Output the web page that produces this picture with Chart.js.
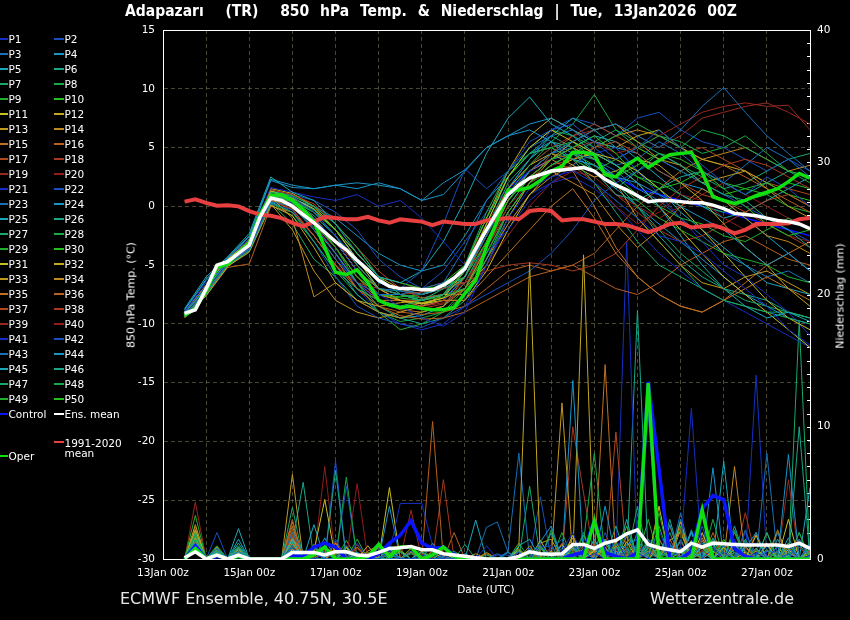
<!DOCTYPE html>
<html><head><meta charset="utf-8">
<script src="https://cdn.jsdelivr.net/npm/chart.js@4.4.1/dist/chart.umd.min.js"></script>
<style>
body{margin:0;background:#000;}
#wrap{position:relative;width:850px;height:620px;background:#000;overflow:hidden;font-family:'DejaVu Sans',sans-serif;color:#fff;}
canvas{position:absolute;left:0;top:0;}
.t{position:absolute;white-space:pre;line-height:1;}
.sw{position:absolute;height:2px;width:10px;}
</style></head><body>
<div id="wrap"><canvas id="c" width="850" height="620"></canvas></div>
<script>
// ---------- categories / tick labels ----------
const hours6 = [12,18,24,30,36,42,48,54,60,66,72,78,84,90,96,102,108,114,120,126,132,138,144,150,156,162,168,174,180,186,192,198,204,210,216,222,228,234,240,246,252,258,264,270,276,282,288,294,300,306,312,318,324,330,336,342,348,354,360];
const hours12 = [12,24,36,48,60,72,84,96,108,120,132,144,156,168,180,192,204,216,228,240,252,264,276,288,300,312,324,336,348,360];
const dateTickLabels = ['13Jan 00z','15Jan 00z','17Jan 00z','19Jan 00z','21Jan 00z','23Jan 00z','25Jan 00z','27Jan 00z'];
const memberPalette = ['#1430c4','#1850c0','#1870b8','#1894c8','#18a8b8','#18a888','#18a868','#18a848','#20b030','#20c020','#c8c020','#c0a820','#c09820','#c08820','#c07020','#b86020','#b04820','#a83820','#982820','#901c1c'];

// ---------- special series (6-hourly) ----------
const meanTemp = [-9.1,-8.8,-7.0,-5.0,-4.7,-4.0,-3.3,-0.9,0.7,0.5,0.0,-0.7,-1.4,-2.2,-3.0,-3.7,-4.6,-5.4,-6.3,-6.8,-7.0,-7.0,-7.1,-7.1,-6.7,-6.1,-5.3,-3.6,-2.0,-0.5,1.0,1.8,2.4,2.7,3.0,3.1,3.2,3.3,3.0,2.3,1.8,1.4,0.9,0.4,0.5,0.5,0.4,0.3,0.3,0.1,-0.2,-0.6,-0.7,-0.8,-1.0,-1.2,-1.3,-1.5,-1.9];
const operTemp = [-9.3,-8.7,-7.2,-5.2,-4.9,-3.9,-3.1,-0.7,0.9,1.0,0.5,-0.3,-1.3,-3.5,-5.6,-5.8,-5.4,-6.5,-8.0,-8.4,-8.6,-8.5,-8.7,-8.8,-8.8,-8.6,-7.4,-6.3,-3.4,-1.2,1.4,1.4,1.6,2.2,3.0,3.4,4.6,4.6,4.4,2.7,2.5,3.5,4.1,3.3,3.9,4.4,4.5,4.6,2.9,0.8,0.5,0.25,0.5,0.9,1.2,1.5,2.1,2.8,2.4];
const climTemp = [0.4,0.6,0.3,0.05,0.1,0.0,-0.4,-0.7,-0.8,-1.0,-1.4,-1.7,-1.3,-0.9,-1.0,-1.1,-1.1,-0.9,-1.2,-1.4,-1.1,-1.2,-1.3,-1.6,-1.3,-1.4,-1.5,-1.5,-1.2,-1.1,-1.0,-1.1,-0.4,-0.3,-0.4,-1.2,-1.1,-1.1,-1.3,-1.5,-1.5,-1.6,-1.9,-2.2,-1.9,-1.5,-1.4,-1.8,-1.7,-1.6,-1.9,-2.3,-2.0,-1.5,-1.5,-1.5,-1.45,-1.1,-1.0];
const meanPrecip = [0.1,0.55,0,0.3,0,0.3,0,0,0,0,0.5,0.5,0.5,0.3,0.55,0.55,0.3,0.25,0.5,0.8,0.85,0.95,0.7,0.7,0.4,0.3,0.2,0.1,0,0,0,0.2,0.55,0.4,0.35,0.4,1.1,1.1,0.8,1.2,1.4,1.9,2.2,1.1,0.85,0.7,0.55,1.2,0.9,1.2,1.15,1.1,1.06,1.06,1.06,1.06,0.95,1.2,0.8];
const controlPrecip = [0,1.0,0,0.2,0,0.2,0,0,0,0,0.2,0.2,0.9,1.2,0.9,0,0,0,0.4,1.2,1.8,2.9,1.2,0.8,0.9,0.3,0,0,0,0,0,0,0,0,0,0,0.3,0.5,2.9,0.5,0.2,0,0.5,13.4,6.8,0,0,0.6,3.8,4.8,4.5,0.8,0.2,0,0,0,0,0,0];
const operPrecip = [0,0.8,0,0.3,0,0.2,0,0,0,0,0,0,0.3,0.9,0,0,0,0.2,1.1,0.2,0.9,0.9,0,0.3,0.9,0.2,0,0,0,0,0,0,0,0,0,0,0,0,2.9,0,0,0,0,13.3,0,0,0,0,3.7,0,0,0,0,0,0,0,0,0,0];
// control temperature (12-hourly)
const controlTemp = [-9.0,-7.0,-4.7,-3.2,0.8,0.2,-1.5,-4.0,-6.5,-8.0,-8.5,-8.5,-8.0,-6.0,-2.0,1.5,3.0,4.0,4.5,4.0,2.5,1.5,1.0,0.5,0.0,-0.5,-1.0,-1.5,-2.0,-2.5];

// ---------- members: 850 hPa temperature (12-hourly) ----------
const T01=[-9.2,-7.1,-4.8,-3.5,0.6,0.3,-1.0,-3.0,-5.5,-7.5,-8.5,-9.5,-10.2,-9.0,-5.0,-1.0,1.5,2.5,3.0,2.0,0.5,-1.0,-2.5,-3.0,-4.0,-5.5,-7.0,-8.5,-10.5,-11.8];
const T02=[-9.0,-6.8,-4.6,-3.0,1.0,0.8,-0.5,-2.5,-4.5,-6.5,-7.0,-5.5,-1.5,3.2,1.5,3.0,5.5,6.5,7.0,5.5,4.0,5.0,6.5,5.0,3.5,2.0,1.0,2.5,1.5,0.0];
const T03=[-9.3,-7.3,-4.9,-3.6,0.4,0.0,-2.0,-4.5,-6.5,-7.5,-7.5,-7.0,-6.5,-5.5,-2.5,1.0,3.0,4.5,5.5,6.5,7.0,6.0,5.0,6.5,8.5,10.1,8.0,6.0,4.5,3.0];
const T04=[-8.8,-6.3,-4.4,-2.6,2.2,1.6,1.5,1.8,1.5,2.0,1.5,0.5,1.0,3.0,5.0,6.0,6.5,5.5,4.0,3.5,2.5,2.0,1.0,0.0,-1.0,-2.0,-3.5,-5.0,-4.0,-5.5];
const T05=[-8.7,-6.0,-4.3,-2.3,2.5,1.2,0.5,-1.5,-4.0,-6.0,-6.5,-5.5,-3.0,0.5,4.5,7.5,9.3,7.0,6.0,4.5,3.5,2.0,0.0,-2.5,-5.0,-7.0,-8.5,-9.5,-9.0,-9.8];
const T06=[-9.1,-7.0,-4.7,-3.3,1.0,0.5,-0.8,-2.5,-5.0,-7.0,-7.5,-8.0,-7.5,-6.0,-2.0,2.0,4.0,5.5,5.0,3.0,1.5,3.0,4.5,3.5,2.0,1.0,0.5,-1.0,-2.0,-3.5];
const T07=[-9.4,-7.5,-5.0,-3.8,0.3,-0.5,-3.0,-5.5,-7.0,-8.0,-8.5,-8.0,-7.0,-5.0,-0.5,3.0,4.5,5.0,4.0,2.0,-0.5,-3.0,-5.0,-6.0,-7.0,-8.0,-8.5,-9.0,-9.5,-10.0];
const T08=[-9.0,-6.9,-4.6,-3.1,1.2,0.9,0.0,-1.5,-3.5,-6.0,-7.5,-8.0,-7.5,-5.5,-2.5,1.0,3.5,5.5,7.0,9.5,6.5,5.0,6.0,5.5,4.5,5.0,6.0,4.5,3.0,2.5];
const T09=[-9.3,-7.2,-4.8,-3.4,0.7,0.2,-1.5,-3.5,-6.0,-7.5,-7.8,-8.0,-7.7,-7.0,-4.0,-0.5,2.0,3.5,4.5,4.0,2.5,1.0,0.0,-1.0,-1.5,-2.5,-3.0,-2.0,-1.0,-2.0];
const T10=[-9.2,-7.0,-4.7,-3.2,0.9,0.4,-0.5,-2.0,-4.0,-6.0,-6.5,-7.0,-6.8,-6.0,-3.0,0.5,2.5,4.0,5.0,6.0,4.5,2.5,1.5,2.0,3.0,1.5,0.0,-1.5,-2.5,-2.0];
const T11=[-9.0,-6.8,-4.5,-3.0,1.3,0.7,-0.2,-2.0,-4.5,-7.0,-8.0,-8.3,-7.8,-5.5,-1.5,2.5,5.0,6.5,5.5,4.5,4.0,3.0,1.5,0.0,-2.0,-4.0,-6.0,-8.0,-9.5,-10.5];
const T12=[-9.5,-7.6,-5.1,-3.9,0.1,-0.8,-3.5,-6.5,-8.0,-8.5,-8.2,-8.0,-7.5,-6.0,-2.0,1.5,3.5,4.5,3.5,2.5,3.0,4.0,3.5,2.0,0.5,-1.5,-3.5,-5.0,-7.0,-8.5];
const T13=[-9.1,-6.9,-4.6,-3.2,1.0,0.6,-1.0,-3.0,-5.5,-7.5,-8.0,-8.2,-7.8,-7.0,-5.0,-1.0,2.0,4.0,5.5,6.5,7.0,5.5,4.0,3.5,2.0,2.5,3.0,1.5,0.0,-1.0];
const T14=[-9.2,-7.2,-4.8,-3.3,0.8,-1.0,-7.7,-6.5,-8.0,-9.0,-9.5,-9.0,-8.5,-7.0,-3.5,0.5,2.5,3.0,2.0,1.0,-1.5,-3.5,-2.0,0.0,1.5,0.5,-1.0,-2.5,-3.0,-4.0];
const T15=[-9.3,-7.4,-4.9,-3.6,0.5,0.0,-2.0,-4.5,-7.0,-8.0,-8.0,-8.5,-8.0,-8.0,-6.0,-4.0,-2.0,0.0,1.5,-1.0,-4.0,-6.0,-7.5,-8.5,-9.0,-8.0,-7.0,-6.0,-7.0,-8.0];
const T16=[-9.4,-7.6,-5.2,-4.9,0.0,-0.5,-2.5,-5.0,-7.0,-8.5,-9.3,-9.6,-9.5,-9.0,-8.0,-7.0,-6.0,-5.5,-5.0,-6.0,-7.0,-7.5,-6.5,-5.0,-4.0,-3.0,-2.5,-3.5,-4.5,-5.0];
const T17=[-9.0,-6.7,-4.5,-2.9,1.4,1.0,0.2,-1.5,-3.5,-5.5,-7.0,-7.8,-7.5,-6.0,-2.5,1.0,3.0,4.5,4.0,5.0,5.5,4.5,3.0,2.0,1.0,0.5,-0.5,0.5,1.0,0.0];
const T18=[-9.3,-7.3,-4.9,-3.5,0.5,-0.2,-2.5,-5.0,-6.5,-7.0,-7.5,-7.3,-7.0,-6.5,-5.5,-5.0,-4.8,-5.0,-5.5,-5.0,-4.0,-2.0,0.0,1.5,2.5,3.5,4.0,3.5,2.5,1.5];
const T19=[-9.1,-7.0,-4.7,-3.3,0.8,0.3,-1.5,-3.5,-6.0,-7.5,-8.0,-8.5,-8.2,-7.0,-3.0,0.5,2.5,4.0,5.0,5.5,4.5,5.0,6.0,7.0,8.0,8.5,8.8,8.5,8.6,6.5];
const T20=[-9.2,-7.1,-4.8,-3.4,0.6,0.1,-1.2,-3.0,-5.0,-7.0,-8.0,-8.5,-8.0,-6.5,-3.5,0.0,2.0,3.0,3.5,2.0,0.0,-1.5,-0.5,1.0,0.5,-1.0,-2.0,-1.5,-2.5,-3.0];
const T21=[-8.9,-6.5,-4.4,-2.8,1.6,1.2,0.8,0.5,1.0,0.0,0.5,-1.0,-3.0,-5.0,-4.0,-2.0,0.5,2.0,3.5,4.5,5.0,3.0,1.0,-1.0,-3.0,-5.0,-6.0,-7.5,-9.0,-11.0];
const T22=[-9.4,-7.5,-5.0,-3.7,0.2,-0.3,-3.0,-6.0,-8.5,-9.5,-10.0,-10.3,-9.5,-8.5,-7.5,-6.5,-5.5,-4.0,-2.0,0.5,2.0,3.0,4.0,3.0,2.0,1.0,0.0,-1.0,-2.0,-3.0];
const T23=[-9.1,-7.0,-4.6,-3.2,0.9,0.5,-0.5,-2.5,-5.0,-7.0,-7.2,-7.5,-6.5,-3.5,0.5,3.0,5.0,6.0,6.5,5.0,3.5,4.0,5.5,4.5,3.0,2.0,3.5,5.0,4.0,2.5];
const T24=[-8.8,-6.2,-4.3,-2.5,2.3,1.8,1.5,1.8,2.0,1.8,1.5,0.5,2.0,3.1,5.0,6.0,7.0,7.5,6.5,5.5,5.0,4.5,3.0,2.0,1.5,0.5,-1.0,-2.5,-4.0,-5.5];
const T25=[-9.0,-6.8,-4.5,-3.0,1.3,0.8,-0.3,-2.0,-4.5,-6.5,-7.0,-7.5,-7.0,-6.0,-2.5,1.5,4.0,6.0,7.5,6.5,5.0,3.0,1.5,-0.5,-2.0,-3.5,-5.0,-6.5,-7.0,-7.5];
const T26=[-9.2,-7.2,-4.8,-3.4,0.6,0.0,-1.8,-4.0,-6.5,-8.5,-9.5,-10.0,-9.5,-8.0,-4.5,-0.5,2.0,3.5,4.5,3.0,1.0,0.5,1.5,2.5,3.0,2.0,1.0,2.0,3.0,2.5];
const T27=[-9.3,-7.4,-5.0,-3.7,0.3,-1.5,-4.5,-6.0,-8.0,-9.0,-9.5,-9.0,-8.5,-6.5,-3.0,0.5,3.0,4.5,5.5,4.0,2.0,0.0,-2.0,-4.0,-5.5,-7.0,-8.0,-8.5,-9.0,-9.5];
const T28=[-9.0,-6.8,-4.5,-3.0,1.1,0.6,-0.5,-2.5,-5.0,-7.0,-7.5,-7.8,-7.5,-5.5,-1.5,2.5,5.0,6.5,6.0,5.0,6.0,7.0,6.0,5.0,6.5,6.0,5.0,4.0,3.0,2.0];
const T29=[-9.2,-7.0,-4.7,-3.3,0.8,0.4,-1.0,-3.5,-6.5,-9.0,-10.5,-10.0,-9.0,-7.0,-3.5,0.0,2.5,4.0,4.5,3.5,2.0,0.5,-1.0,-2.0,-3.0,-4.0,-4.5,-5.0,-6.0,-6.5];
const T30=[-9.3,-7.2,-4.9,-3.5,0.6,0.1,-1.5,-3.5,-6.0,-7.5,-7.7,-7.5,-6.5,-5.0,-1.0,2.5,4.5,5.0,4.0,3.0,4.0,5.0,4.0,3.0,2.0,1.0,1.5,2.0,1.0,0.5];
const T31=[-9.1,-6.9,-4.6,-3.1,1.0,0.5,-1.0,-3.0,-5.5,-7.5,-8.0,-8.3,-8.0,-8.0,-5.5,-2.0,1.0,3.0,4.0,4.5,3.5,2.0,0.0,-2.0,-4.0,-6.0,-7.5,-9.0,-10.5,-12.0];
const T32=[-9.0,-6.7,-4.4,-2.8,1.5,1.1,0.0,-2.0,-4.0,-6.0,-7.0,-7.5,-7.0,-5.0,-1.0,3.0,6.0,7.5,6.5,5.5,5.0,6.0,6.5,5.0,4.0,3.5,3.0,2.0,1.0,0.0];
const T33=[-9.4,-7.5,-5.1,-3.8,0.2,-2.0,-5.5,-8.0,-9.0,-9.5,-9.0,-8.5,-7.5,-5.5,-2.0,1.0,2.5,4.0,5.0,4.0,2.0,-1.0,-3.0,-5.0,-6.5,-7.0,-6.0,-5.5,-6.5,-7.5];
const T34=[-9.2,-7.1,-4.7,-3.3,0.7,0.3,-1.2,-3.0,-5.5,-7.0,-7.5,-8.0,-7.5,-7.5,-4.5,-1.5,1.0,2.5,3.5,5.0,6.0,6.5,6.0,5.0,4.0,4.5,5.0,4.0,3.0,3.5];
const T35=[-9.1,-7.0,-4.7,-3.2,0.9,0.5,-1.0,-3.5,-6.0,-8.0,-8.8,-9.0,-8.5,-6.0,-2.0,1.0,3.0,4.0,3.0,0.0,-3.5,-6.0,-7.5,-8.5,-9.0,-8.0,-6.5,-5.0,-4.0,-3.0];
const T36=[-9.3,-7.3,-4.9,-3.5,0.5,-0.3,-2.5,-5.0,-7.0,-8.5,-9.0,-9.2,-9.0,-8.5,-7.0,-5.5,-5.0,-5.5,-5.0,-4.0,-2.0,0.0,1.5,3.0,4.0,3.5,2.5,1.5,0.5,-0.5];
const T37=[-9.0,-6.8,-4.5,-3.0,1.2,0.8,-0.5,-2.0,-4.0,-6.0,-6.5,-7.0,-6.5,-6.5,-3.5,-0.5,2.0,4.5,6.0,7.0,6.0,5.0,4.0,4.5,5.0,4.0,3.0,2.0,1.5,1.0];
const T38=[-9.2,-7.0,-4.8,-3.4,0.7,0.2,-1.5,-4.0,-6.5,-8.0,-8.5,-8.7,-8.3,-7.0,-4.0,-0.5,2.0,3.5,4.0,3.0,1.0,-0.5,-2.0,-3.0,-2.5,-1.5,-0.5,-1.5,-2.5,-3.5];
const T39=[-9.1,-6.9,-4.6,-3.2,0.9,0.6,-0.5,-2.5,-5.0,-7.0,-8.0,-8.0,-7.0,-5.0,-1.5,1.5,3.5,5.0,6.0,6.5,7.0,6.0,5.0,6.0,7.5,8.0,8.5,8.8,8.0,7.0];
const T40=[-9.3,-7.2,-4.9,-3.5,0.5,0.0,-2.0,-4.5,-7.0,-8.0,-8.0,-8.0,-7.5,-7.5,-5.0,-2.5,0.0,2.0,3.0,2.5,1.0,0.0,-1.0,0.0,1.0,2.0,1.0,0.0,-1.0,-2.0];
const T41=[-9.2,-7.1,-4.8,-3.4,0.7,0.2,-1.5,-4.0,-7.0,-9.0,-10.0,-10.5,-10.0,-8.5,-5.0,-1.5,1.0,2.0,2.5,1.5,0.0,-2.0,-4.0,-5.5,-7.0,-8.0,-9.0,-10.0,-11.0,-12.0];
const T42=[-9.0,-6.8,-4.5,-3.0,1.2,1.0,0.5,-0.5,-2.0,-4.5,-6.0,-7.0,-5.5,-3.0,-0.5,1.5,4.0,6.5,7.5,7.0,6.0,7.5,8.0,6.5,5.5,5.0,4.0,3.0,4.0,3.0];
const T43=[-9.2,-7.0,-4.7,-3.3,0.8,0.4,-1.0,-3.0,-5.5,-7.0,-7.2,-7.5,-7.0,-6.5,-3.0,0.5,3.0,4.5,5.0,4.0,3.0,1.5,0.5,-1.0,-2.5,-4.0,-5.0,-6.0,-5.5,-6.5];
const T44=[-9.1,-6.9,-4.6,-3.1,1.0,0.6,0.0,-1.0,-2.5,-4.0,-5.0,-5.5,-5.0,-2.5,0.5,2.5,4.5,5.5,4.5,3.0,1.5,0.0,-1.5,-3.0,-4.5,-6.0,-7.5,-8.5,-9.5,-10.0];
const T45=[-9.3,-7.3,-4.9,-3.5,0.4,-0.5,-2.5,-5.0,-7.5,-9.0,-9.5,-9.3,-8.5,-6.5,-3.5,0.0,2.5,4.0,5.0,6.0,5.5,4.0,2.5,1.0,0.0,-1.0,-0.5,0.5,1.5,2.5];
const T46=[-9.0,-6.7,-4.4,-2.9,1.3,0.9,0.0,-1.5,-3.5,-6.0,-7.5,-8.0,-7.5,-5.0,-1.0,2.5,4.5,6.0,5.0,4.0,2.0,0.0,-2.5,-4.5,-6.0,-7.0,-7.5,-8.0,-9.0,-9.5];
const T47=[-9.2,-7.1,-4.8,-3.4,0.7,0.3,-1.0,-3.0,-5.5,-7.0,-7.5,-7.8,-7.5,-7.0,-4.0,-0.5,2.0,3.5,4.5,5.5,6.5,5.5,4.5,3.5,2.5,1.5,2.0,3.0,4.0,4.5];
const T48=[-9.4,-7.5,-5.0,-3.7,0.3,-0.8,-3.0,-5.5,-7.5,-9.0,-9.8,-9.5,-9.0,-7.5,-4.5,-1.0,2.0,3.0,3.5,2.0,0.5,-1.0,-3.0,-5.0,-7.0,-8.0,-8.5,-9.0,-9.0,-9.5];
const T49=[-9.1,-6.9,-4.6,-3.2,1.0,0.7,-0.3,-2.0,-4.5,-7.0,-8.0,-8.3,-8.0,-6.0,-2.0,1.5,3.5,5.0,5.5,4.5,3.5,2.5,2.0,1.0,0.0,-0.5,0.5,1.0,0.0,-0.5];
const T50=[-9.2,-7.1,-4.7,-3.3,0.8,0.3,-1.2,-3.5,-6.0,-7.5,-8.0,-8.2,-7.8,-7.0,-3.0,0.5,3.0,4.5,4.0,3.5,2.5,3.5,4.5,4.0,3.0,2.0,1.5,1.0,2.0,1.5];

// ---------- members: precipitation (6-hourly, mm) ----------
const R01=[0,0.8,0,0.3,0,0.2,0,0,0,0, 0.5,0,0,0.4,0,0,1.2,0,0,0.6, 0,0,0.3,0,0,0.5,0,0,1.0,0, 0,0.5,0,1.2,0,0.6,2.0,0,0.4,0, 1.5,0,0.5,0,2.2,0,0.8,11.4,0,0.8, 0,1.5,0,0.5,0,0.9,1.0,0,0.3];
const R02=[0,0.6,0,2.0,0,0.4,0,0,0,0, 1.0,0,0.5,0,1.5,0,0,0,0.8,0, 0,0,0,0.4,0,0,0,0,0,0.3, 0.3,0,0,0.9,1.0,0,0,0.6,0,2.0, 0,0.7,0,11.0,0,1.0,0,0,2.5,0, 0.5,0,1.1,1.2,0,0,0.4,0,0];
const R03=[0,0.5,0,0.8,0,0.6,0,0,0,0, 2.0,0.5,0,0,0,1.0,0,0,0,0.4, 0,0.6,0,0,0.2,0,0,0,0,0.4, 0,0,0.8,0,0.7,1.5,0,0,3.0,0, 0,2.0,0,0.5,0,0,3.5,0,1.2,1.0, 0,0,2.2,0,0.6,0.5,0,1.5,0];
const R04=[0,1.0,0,0.5,0,0.8,0,0,0,0, 0.8,0,1.0,0,0,0,0.5,0,0,0, 0,0,0,1.2,0,0,0.4,0,0,0, 0.5,0,0,1.3,2.5,0,1.0,0,0,4.0, 0,1.1,1.5,0,0,2.6,0,2.0,0,0, 1.0,0,0.8,2.0,0,0,7.9,0,1.2];
const R05=[0,1.2,0,0.7,0,2.3,0,0,0,0, 1.5,0,2.6,0,0,0.5,0,0,0,1.0, 0,0,0.5,0,0,0,0,0,0,0, 0,1.0,1.5,0,0,0,0.8,0,0,1.5, 0,3.0,0,0.9,1.0,0,0,0,0.5,0, 0,2.5,0,0,1.0,0,1.6,0,0.8];
const R06=[0,1.5,0,0.5,0,0.5,0,0,0,0, 0.8,0,0,0,6.7,0,0,0.3,0,0, 0.5,0,0,0,0.8,0,0,0,0,0, 0,0.6,0,0,2.0,0,1.1,0.5,0,0, 2.5,0,0,1.2,0,3.0,0,0,1.2,0, 0,1.0,0.6,0,2.0,0,0,10.0,0];
const R07=[0,2.0,0,0.8,0,0.9,0,0,0,0, 3.9,0,0.6,0,0,0,0.5,0,0,0, 0,0.4,0,0,0,0,0,0,0.3,0, 0,0,0,0.8,0,0,1.0,0,2.5,0, 0.9,0,4.0,0,0.6,0,1.4,0,0,1.5, 0,0.5,0,0,0,1.0,0,0,0];
const R08=[0,1.8,0,1.0,0,0.6,0,0,0,0, 1.0,0,0,0.5,0,0,0,0,0.6,0, 0,0,0.8,0,0,0,0,0,0,0, 0,0,0,0,0.5,0,0,1.3,8.0,0, 0,0,2.0,0,0,1.0,0,0.7,0,3.0, 0,0,1.5,0,0,0.5,0,2.0,0];
const R09=[0,3.3,0,0.6,0,1.0,0,0,0,0, 0.5,0,0,0,0,0.8,0,0,0,0.3, 0,0,0,0,0,0.6,0,0,0,0, 0,0,0.4,0,0,2.0,0,0,0.9,0, 1.2,0,0,0,3.5,0,0.6,0,0.5,0, 0,2.0,0,0.7,0,0,1.0,0,0];
const R10=[0,1.5,0,0.4,0,0.3,0,0,0,0, 0,0,0.8,0,0,0,0,0,0.5,0, 0.7,0,0,0,0,0,0,0,0,0, 0,0,0,1.0,0,0,0.5,0,0,1.4, 0,2.5,0,0,0,0.6,0,0.8,0,0, 1.5,0,0,0,0.7,0,0,0,0.5];
const R11=[0,2.2,0,0.9,0,0.4,0,0,0,0, 1.5,0,0.6,4.5,0,0.9,0,0.4,0,0.5, 0,0.8,0,0,0.5,0,0,0,0,0, 0,0.7,0,1.4,0,0,1.8,0,0.6,0.6, 0,1.3,0,0,4.0,0,0.7,0,2.0,0, 0.9,0,0.5,0,1.1,0,3.0,0,0.4];
const R12=[0,1.6,0,0.6,0,0.5,0,0,0,0, 1.0,0,0.5,0,0.8,0,0,1.0,0,0, 0.6,0,0,0,0,0.3,0,0,0,0, 0,0.9,22.4,0,0,1.1,0,0,0.7,0, 1.0,0,0.6,0,0,1.4,2.0,0,0,0.6, 0,1.2,0,1.8,0,0,0.5,0,0];
const R13=[0,2.6,0,0.5,0,0.7,0,0,0,0, 6.4,0,0.9,0,0.5,0,0,0.6,1.0,0, 0,0,0.5,0,0,0,0,0.4,0,0, 0,0.5,0,1.2,1.5,0,0,0.8,0,0, 1.3,0,0,0.6,0,0,2.8,0,1.0,0, 0,0.8,0,0,1.2,0,0.9,0,0.5];
const R14=[0,2.0,0,0.6,0,0.8,0,0,0,0, 1.5,0.6,0,0,1.2,0,0.4,0,0,0.8, 0,0,0,0.6,0,0,0,0,0.4,0, 0,0,1.0,0,0.6,0,1.6,0,0,0.9, 0,1.7,0,1.2,0,0,0.5,0,1.4,0, 0,7.0,0,0.6,0,2.2,0,0,0.7];
const R15=[0,1.8,0,0.4,0,0.5,0,0,0,0, 2.5,0,0,0.7,0.6,0,0,0,0.9,0, 0,0.5,0,0,0,0,0,0,0,0, 0,0,0.8,0,0,0.5,0,1.3,0,14.7, 0,0.6,0,0,1.5,0,0,0.9,0,0, 1.3,0,1.0,0,0,0.6,0,0,0];
const R16=[0,1.4,0,0.5,0,0.6,0,0,0,0, 3.0,0,0.6,0,0,0.8,0,0.5,0,0, 0,0,0,10.4,0,0,0,0,0,0, 0,0,0,0.5,0,0,0.9,0,0,0, 0,0,0,0.8,0,0,0,0.5,0,2.0, 0,0,0,0,0.7,0,0,0,0];
const R17=[0,1.7,0,0.3,0,0.4,0,0,0,0, 1.8,0,0,0.8,0,0,1.1,0,0,0, 0,0.6,0,0,0,0,0,0,0,0, 0,0,0.5,0,0,1.2,0,0,1.0,0, 0.8,0,0,0,0,1.5,0,0,0.6,0, 0,1.2,0,0,0,0.5,0,0,0.6];
const R18=[0,2.4,0,0.7,0,0.9,0,0,0,0, 2.0,0,0,0.5,0,0,0.8,0,0,0, 0,0,0,0,6.0,0,0,0,0,0, 0,0,0.6,0,0,0,0,1.0,0,0, 0,0.9,0,0,0,0,1.3,0,0,0.8, 0,0,3.5,0,0,0,0,1.5,0];
const R19=[0,4.3,0,0.8,0,0.5,0,0,0,0, 1.0,0,0,0.6,0,0,0,0,0.5,0, 0,0,0,0,0,0,0.3,0,0,0, 0,0,0,0,0.9,0,0,0.8,0,0, 0,0,1.2,0,0,2.5,0,0,0.7,0, 0,1.0,0,0,0,0,6.0,0,0];
const R20=[0,2.2,0,0.5,0,0.4,0,0,0,0, 0.8,0,0,7.0,0,0,0,0,0,0, 0,0,0.4,0,0,0,0,0,0,0, 0,0,0,0,0,0.7,0.6,0,0,0, 0,0,0,1.1,0,0,0,0,1.8,0, 0,0,0.8,0,0,0,0,0,0];
const R21=[0,0.9,0,0.5,0,0.3,0,0,0,0, 0,0,0,0,0,0,0,0,0,0.5, 4.2,4.2,4.2,1.0,0,0,0,0,0,0, 0,0.5,0,0,0.9,0,0,0,0.6,0, 0,0,0,1.2,0,0,0,1.0,0,0, 0,0,0,13.9,0,0,0,0,0];
const R22=[0,0.7,0,0.4,0,0.3,0,0,0,0, 0.6,0,0,0,7.4,0,0,0,0,0, 0,0,0,0,0,0,0,0,0,0, 0,0.6,0,0,0,0,1.2,0,0.9,0, 0.5,0,0,1.3,1.6,0,0,0,0,0.7, 0,0.9,0,0,0,0,0.8,0,0];
const R23=[0,0.6,0,0.6,0,0.4,0,0,0,0, 0.8,0,0,0,0,0,0,0,0,0.7, 0,0,0,0,0,0,0,0,0,0, 0.6,8.0,0,0,0,0,0.5,0,0,0, 0,0.7,0,0,0,1.2,0,0,0,0.9, 0,0,1.4,0,0,0,0.6,0,0];
const R24=[0,1.1,0,0.6,0,0.7,0,0,0,0, 0.5,0,0,0,0,0,0,0,0,4.0, 0,0,0,0,0,0,0,0,0,0, 0,0,0.7,0,0,0,13.5,0,0,0.8, 0,0,0.7,0,0,0,3.0,0,0,0, 0,1.0,0,0,0,2.0,0,0,0.6];
const R25=[0,0.8,0,0.5,0,1.2,0,0,0,0, 1.0,0,0,0.6,0,0,0,0,0,0, 0,0,0,0,0,0,0,0,0,0, 0,0,0,0.9,0,0,0,0,1.5,0, 0,0,1.1,0,0,0,0,2.2,0,0, 7.4,0,0,0.8,0,0,0,1.1,0];
const R26=[0,1.3,0,0.4,0,0.9,0,0,0,0, 1.2,5.8,0,0,0,0,0,0,0,0, 0,0,0,0,0,0,0,0,0,0, 0,0,0,0,0,0.8,0,0,0,0, 0,0,0,1.5,0,0,0.9,0,0,1.6, 0,0.7,0,0,0,0,1.2,0,0];
const R27=[0,1.0,0,0.4,0,0.5,0,0,0,0, 2.0,0,0.5,0,0,0.9,0,0,0,0, 0,0.5,0,0,0,0,0,0,0,0, 0,0,5.5,0,0,0,0.7,0,0,0, 0,0.8,0,0,0,0,0,0,3.5,0, 0,0,1.3,0,0,1.0,0,0,0];
const R28=[0,1.9,0,0.5,0,0.7,0,0,0,0, 1.5,0,0,0,0,6.2,0,0,0,0, 0,0,0,0.5,0,0,0,0,0,0, 0,0,0.6,0,0,0,0,2.0,0,0, 0,0,0,0.9,0,0,0,0,0,1.1, 0,0,1.0,0,0.6,0,0,0,0];
const R29=[0,2.1,0,0.6,0,0.6,0,0,0,0, 0.8,0,0,0,0,0,1.5,0,0,0, 0,0,0,0,0,0,0,0,0,0, 0,0,0,1.0,0,0,0,0,0.7,0, 0,0,0,0,2.5,0,0,0,0,0, 0.8,0,0,0,0,0,0,2.0,0];
const R30=[0,1.6,0,0.5,0,0.5,0,0,0,0, 1.0,0,0,0,0.8,0,0,0,0,0, 0,0,0.6,0,0,0,0,0,0,0, 0,0.8,0,0,0,0,0,0,0,1.2, 0,0,0,0,0,0.9,0,1.4,0,0, 0,0,0,0,2.0,0,0,0,0];
const R31=[0,1.2,0,0.6,0,0.4,0,0,0,0, 0.7,0,0,0,0,0,0,0,0,5.4, 0,0,0,0,0,0,0,0,0,0, 0,0,0,0,0,0,0,0,0,0.8, 0,0,0,1.2,0,0,0,0,0.9,0, 0,1.3,0,0,0,0,0.7,0,0];
const R32=[0,0.9,0,0.5,0,0.5,0,0,0,0, 0.5,0,1.1,0,0,0,0,0,0,0, 0,0,0,0,0,0,0,0,0,0, 0,0,0,0,0,0,0,23.0,0,0, 0,0,0,0,0.9,0,0,0.6,0,0, 0,0,0,0.8,0,0,1.2,0,0];
const R33=[0,1.7,0,0.3,0,0.5,0,0,0,0, 1.2,0,0,0,0,0,0,0,0,0, 0,0,0,0,0,0,0,0,0,0, 0,0,0,0,0,11.8,0,0,0,0, 0,0,0,0,1.0,0,0,0,1.6,0, 0,0,0,0,0,0.9,0,0,0];
const R34=[0,1.5,0,0.5,0,0.6,0,0,0,0, 1.6,0,0,0,0,0,0.9,0,0,0, 0,0,0,0,0,0,0,0,0.5,0, 0,0,0,0,0,0,0,1.0,0,0, 0,0,0,0,0,0,2.2,0,0,0, 0,0,0.9,0,0,0,0,0,0];
const R35=[0,1.4,0,0.4,0,0.5,0,0,0,0, 2.8,0,0,0,0,1.0,0,0,0,0, 0,0,0,0,0,0,0,0,0,0, 0,0,0,0,0,0,0,0,0,0, 0.6,0,0,0,0,0,0,0,0,1.2, 0,0,0,0,0,0.9,0,0,0];
const R36=[0,1.1,0,0.4,0,0.4,0,0,0,0, 2.2,0,0,0,0,0,0,0,0,0, 0,0,0,0,0,2.0,0,0,0,0, 0,0,0,0,0,0,0.8,0,0,0, 0,0,0,0,0,0,0,0,1.0,0, 0,0,0,0,1.1,0,0,0,0];
const R37=[0,1.0,0,0.5,0,0.3,0,0,0,0, 1.1,0,0,0,1.3,0,0,0,0,0, 0,0,0,0,0,0,0,0,0,0, 0,0.6,0,0,0,0,0,0,0,0, 9.6,0,0,0,0,0,0,0,0,0, 0,0,0,2.0,0,0,0,0,0];
const R38=[0,1.5,0,0.6,0,0.8,0,0,0,0, 1.4,0,0,0,0,0,0,0,1.2,0, 0,0,0,0,0,0,0,0,0,0, 0,0,0,0,0,0,10.0,5.0,0,0, 0,0,0,0,0,0,0,1.2,0,0, 0,0,0,0,0,0,0,0.9,0];
const R39=[0,2.0,0,0.5,0,0.6,0,0,0,0, 1.7,0,0,0,0,0,0,0,0,0, 0,3.7,0,0,0,0,0,0,0,0, 0,0,0,0,0,0,0,0,0.8,0, 0,0,0,0,0,1.5,0,0,0,0, 0,0,0,0,0,0,1.0,0,0];
const R40=[0,1.8,0,0.4,0,0.4,0,0,0,0, 0.9,0,0,0,0,0,5.7,0,0,0, 0,0,0,0,0,0,0,0,0,0, 0,0,0,0,0,0,0,0,0,0, 0,0,1.0,0,0,0,0,0,0,0, 0,0,0,0,0,0.9,0,0,0];
const R41=[0,0.5,0,0.3,0,0.2,0,0,0,0, 0.6,0,0,0,0,0,0,1.0,0,0, 0,0,0,0,0,0,0,0,0,0, 0,0,0,0,0,1.0,0,0,0,0, 0,24.0,0,0,0,0,0,0,0,0, 0,0,2.0,0,0,0,0,0,0];
const R42=[0,0.6,0,0.5,0,0.3,0,0,0,0, 0.7,0,0,0,0,5.5,0,0,0,0, 0,0,0,0,0,0,0,0,0,0, 0,0,0,4.7,0,0,0,0,0,0, 0,0,0,0,0,0,1.5,0,0,0, 0,0,0,0,0,0,0,0,1.0];
const R43=[0,0.8,0,0.4,0,0.5,0,0,0,0, 0.8,0,0,0,0,0,0,0,0,0, 0,0,0,0,0,0,0,0,2.4,2.8, 0.5,0,0,0,0,0,0,0,0,0, 0,0,0,0,0,1.1,0,0,0,0, 0,0,0,0,8.0,0,0,0,0];
const R44=[0,1.0,0,0.7,0,0.8,0,0,0,0, 0.5,0,0,1.6,0,0,0,0,0,0, 0,0,0,0,0,0,0,0,0,0, 0,0,0,0,0,0,0,0,1.5,0, 0,0,0.9,0,0,0,0,0,0,6.9, 0,0,0,0,0,0,1.2,0,0];
const R45=[0,1.3,0,0.6,0,1.5,0,0,0,0, 0.9,0,0,0,0,0,0,0,0,0, 0,0,0,0,0,0,0,2.95,0,0, 0,0,0,0,0,0,1.0,0,0,0, 0,0,0,0,0,0,0,2.0,0,0, 0,0,0,0,0,0,0,0,5.4];
const R46=[0,1.2,0,0.5,0,0.8,0,0,0,0, 1.3,0,0,0,0,0,0,0,0,0, 0,0,0,0,0,0,1.1,0,0,0, 0,0,0,0,0,0,0,0,0.8,0, 0,0,18.8,0,0,0,0,0,0,0, 0,0,0,0,0,1.5,0,0,0];
const R47=[0,1.6,0,0.6,0,0.7,0,0,0,0, 1.8,0,0,0,0,0,0,0,0,0, 0,0,0,0,0,0,0,0,0,0, 0,0,0,0,0,0,0,0,0,1.5, 0,0,0,0,0,2.0,0,0,0,0, 0,0,0,0,0,0,0,18.0,0];
const R48=[0,2.4,0,0.6,0,0.8,0,0,0,0, 1.4,0,0,0,0,0,0,0,0,0.9, 0,0,0,0,0,0,0,0,0,0, 0,0,0,0,2.2,0,0,0,0,0, 0,0,0,0,0,0,0,1.0,0,0, 0,0,0,1.8,0,0,0,0,0];
const R49=[0,1.9,0,0.5,0,0.6,0,0,0,0, 1.2,0,0,0,0,1.4,0,0,0,0, 0,0,0,0,0,0,0,0,0,0, 0,1.2,0,0,0,0,0,0,0,0, 0,0,0,3.0,0,0,0,0,0,0, 0,2.2,0,0,0,0,0,0,0];
const R50=[0,1.7,0,0.6,0,0.7,0,0,0,0, 1.0,0,0,0,0,0,0,0,0,0, 0,0,0,0,0.9,0,0,0,0,0, 0,0,0,0,0,0,0,1.8,0,0, 0,0,0,0,0,0,2.5,0,0,0, 0,0,1.0,0,0,0,0,0,0];

const memberTemps=[T01,T02,T03,T04,T05,T06,T07,T08,T09,T10,T11,T12,T13,T14,T15,T16,T17,T18,T19,T20,T21,T22,T23,T24,T25,T26,T27,T28,T29,T30,T31,T32,T33,T34,T35,T36,T37,T38,T39,T40,T41,T42,T43,T44,T45,T46,T47,T48,T49,T50];
const memberPrecip=[R01,R02,R03,R04,R05,R06,R07,R08,R09,R10,R11,R12,R13,R14,R15,R16,R17,R18,R19,R20,R21,R22,R23,R24,R25,R26,R27,R28,R29,R30,R31,R32,R33,R34,R35,R36,R37,R38,R39,R40,R41,R42,R43,R44,R45,R46,R47,R48,R49,R50];
const memberNames = memberTemps.map((_,i)=>'P'+(i+1));

const COL_MEAN='#ffffff', COL_OPER='#10e010', COL_CTRL='#0a14ff', COL_CLIM='#e84040';

// ---------- build chart ----------
function pairs(hs, vs){ return hs.map((h,i)=>({x:h,y:vs[i]})); }
const datasets=[];
datasets.push({label:'Ens. mean T', data:pairs(hours6,meanTemp), yAxisID:'y', borderColor:COL_MEAN, borderWidth:3.5, order:0});
datasets.push({label:'Ens. mean P', data:pairs(hours6,meanPrecip), yAxisID:'y1', borderColor:COL_MEAN, borderWidth:3.5, order:0});
datasets.push({label:'Oper T', data:pairs(hours6,operTemp), yAxisID:'y', borderColor:COL_OPER, borderWidth:3.5, order:1});
datasets.push({label:'Oper P', data:pairs(hours6,operPrecip), yAxisID:'y1', borderColor:COL_OPER, borderWidth:3.5, order:1});
datasets.push({label:'Control P', data:pairs(hours6,controlPrecip), yAxisID:'y1', borderColor:COL_CTRL, borderWidth:3.5, order:2});
datasets.push({label:'1991-2020 mean', data:pairs(hours6,climTemp), yAxisID:'y', borderColor:COL_CLIM, borderWidth:4, order:3});
for(let i=0;i<memberTemps.length;i++){
  const col=memberPalette[i%memberPalette.length];
  datasets.push({label:memberNames[i]+' T', data:pairs(hours12,memberTemps[i]), yAxisID:'y', borderColor:col, borderWidth:1, order:10});
  datasets.push({label:memberNames[i]+' P', data:pairs(hours6,memberPrecip[i]), yAxisID:'y1', borderColor:col, borderWidth:1, order:10});
}
datasets.push({label:'Control T', data:pairs(hours12,controlTemp), yAxisID:'y', borderColor:COL_CTRL, borderWidth:1.5, order:50});

const GRID='rgba(95,95,70,0.75)';
const framePlugin={
  id:'frame',
  beforeDatasetsDraw(chart){
    const {ctx, chartArea:a} = chart; const s=chart.scales.y1;
    ctx.save();
    ctx.strokeStyle='#ffffff'; ctx.lineWidth=1;
    ctx.strokeRect(a.left+0.5,a.top+0.5,a.right-a.left,a.bottom-a.top);
    for(let v=s.min; v<=s.max; v++){
      const y=Math.round(s.getPixelForValue(v))+0.5;
      ctx.beginPath(); ctx.moveTo(a.right-3,y); ctx.lineTo(a.right,y); ctx.stroke();
    }
    ctx.restore();
  }
};

Chart.defaults.font.family="'DejaVu Sans', sans-serif";
new Chart(document.getElementById('c'),{
  type:'line',
  data:{datasets},
  options:{
    responsive:false, animation:false, devicePixelRatio:1,
    parsing:false, normalized:true,
    elements:{point:{radius:0}, line:{tension:0, fill:false}},
    layout:{padding:{top:30,left:0,right:0,bottom:0}},
    plugins:{legend:{display:false}, tooltip:{enabled:false}, title:{display:false}},
    scales:{
      x:{type:'linear', min:0, max:360,
         ticks:{stepSize:24, autoSkip:false, maxRotation:0, color:'#ffffff', font:{size:10.5}, padding:8,
                callback:(v)=> (v%48===0 && v/48<dateTickLabels.length) ? dateTickLabels[v/48] : ''},
         grid:{color:GRID, drawTicks:false, lineWidth:1},
         border:{display:true, color:'#ffffff', dash:[4,3]},
         afterFit:(s)=>{s.height=61;}},
      y:{type:'linear', position:'left', min:-30, max:15,
         ticks:{stepSize:5, color:'#ffffff', font:{size:10.5}, padding:8},
         grid:{color:GRID, drawTicks:false, lineWidth:1},
         border:{display:true, color:'#ffffff', dash:[4,3]},
         afterFit:(s)=>{s.width=163;}},
      y1:{type:'linear', position:'right', min:0, max:40,
         ticks:{stepSize:10, color:'#ffffff', font:{size:10.5}, padding:7},
         grid:{drawOnChartArea:false, drawTicks:false},
         border:{display:true, color:'#ffffff'},
         afterFit:(s)=>{s.width=40;}}
    }
  },
  plugins:[framePlugin]
});

// ---------- text overlays ----------
const wrap=document.getElementById('wrap');
function txt(s,x,y,o){
  o=o||{};
  const d=document.createElement('div'); d.className='t'; d.textContent=s;
  d.style.left=x+'px'; d.style.top=y+'px';
  d.style.fontSize=(o.size||10.5)+'px';
  if(o.weight) d.style.fontWeight=o.weight;
  if(o.family) d.style.fontFamily=o.family;
  if(o.ws) d.style.wordSpacing=o.ws+'px';
  d.style.color=o.color||'#ffffff';
  if(o.rot){ d.style.transform='translate(-50%,-50%) rotate('+o.rot+'deg)'; }
  else { d.style.transform='translate('+(o.align==='center'?'-50%':'0')+',-50%)'; }
  wrap.appendChild(d); return d;
}
function sw(col,x,y){
  const d=document.createElement('div'); d.className='sw'; d.style.background=col;
  d.style.left=x+'px'; d.style.top=(y-1)+'px'; wrap.appendChild(d);
}
txt('Adapazarı  (TR)  850 hPa Temp. & Niederschlag | Tue, 13Jan2026 00Z',125,12,{size:15.5,weight:'bold',ws:6,family:"'DejaVu Sans Condensed','DejaVu Sans',sans-serif"});
txt('850 hPa Temp. (°C)',131,295,{rot:-90,size:11});
txt('Niederschlag (mm)',840,296,{rot:-90,size:11});
txt('Date (UTC)',486,589,{align:'center'});
txt('ECMWF Ensemble, 40.75N, 30.5E',120,599,{size:16,color:'#e6e6e6'});
txt('Wetterzentrale.de',650,599,{size:16,color:'#e6e6e6'});

const LEG_X=[[-2,8.5],[54,64.5]];
memberNames.forEach((n,i)=>{
  const col=i%2, row=Math.floor(i/2), y=39+row*15;
  sw(memberPalette[i%memberPalette.length],LEG_X[col][0],y);
  txt(n,LEG_X[col][1],y);
});
sw(COL_CTRL,LEG_X[0][0],414); txt('Control',LEG_X[0][1],414);
sw(COL_MEAN,LEG_X[1][0],414); txt('Ens. mean',LEG_X[1][1],414);
sw(COL_CLIM,LEG_X[1][0],442); txt('1991-2020',LEG_X[1][1],443); txt('mean',LEG_X[1][1],453);
sw(COL_OPER,LEG_X[0][0],456); txt('Oper',LEG_X[0][1],456);
</script>
</body></html>
